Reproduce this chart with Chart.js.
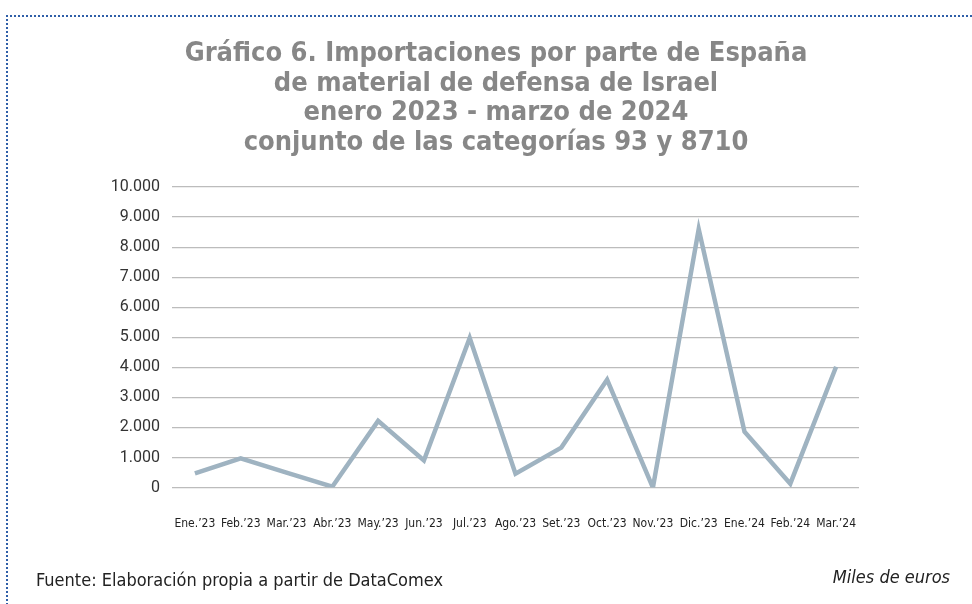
<!DOCTYPE html>
<html>
<head>
<meta charset="utf-8">
<script src="https://cdn.jsdelivr.net/npm/chart.js@4.4.1/dist/chart.umd.min.js"></script>
<style>
  body { margin: 0; background: #fff; }
  #wrap { position: relative; width: 972px; height: 604px; overflow: hidden; }
  #frame {
    position: absolute; left: 6px; top: 15px; width: 980px; height: 600px;
    border-top: 2px dotted #2f5fa8; border-left: 2px dotted #2f5fa8;
  }
  #chart-box { position: absolute; left: 0; top: 0; width: 972px; height: 604px; }
  #title {
    position: absolute; left: 296px; width: 400px; top: 37px; text-align: center;
    white-space: nowrap; display: flex; flex-direction: column; align-items: center;
    font-family: 'Liberation Sans Narrow', 'DejaVu Sans Condensed', 'Roboto', sans-serif;
    font-weight: bold; font-size: 27px; line-height: 29.5px; color: #878787;
  }
  .note { position: absolute; font-family: 'Liberation Sans Narrow', 'DejaVu Sans Condensed', 'Roboto', sans-serif; font-size: 18px; color: #222; }
  #source { left: 36px; top: 569px; }
  #units { right: 22px; top: 566px; font-style: italic; }
</style>
</head>
<body>
<div id="wrap">
  <div id="frame"></div>
  <div id="chart-box"><canvas id="imports-chart"></canvas></div>
  <div id="title"></div>
  <div class="note" id="source">Fuente: Elaboración propia a partir de DataComex</div>
  <div class="note" id="units">Miles de euros</div>
</div>
<script>
// Imports of defence material from Israel, thousands of euros
const months = ['Ene.’23', 'Feb.’23', 'Mar.’23', 'Abr.’23', 'May.’23', 'Jun.’23', 'Jul.’23',
    'Ago.’23', 'Set.’23', 'Oct.’23', 'Nov.’23', 'Dic.’23', 'Ene.’24', 'Feb.’24', 'Mar.’24'];
const imports = [470, 970, 500, 30, 2220, 900, 4980, 460, 1330, 3590, 0, 8600, 1860, 130, 4020];
const titleLines = [
    'Gráfico 6. Importaciones por parte de España',
    'de material de defensa de Israel',
    'enero 2023 - marzo de 2024',
    'conjunto de las categorías 93 y 8710'
];

const narrow = "'Liberation Sans Narrow', 'DejaVu Sans Condensed', 'Roboto', sans-serif";

// title block
const titleEl = document.getElementById('title');
titleLines.forEach(line => {
    const span = document.createElement('span');
    span.textContent = line;
    titleEl.appendChild(span);
});

const ctx = document.getElementById('imports-chart').getContext('2d');
new Chart(ctx, {
    type: 'line',
    data: {
        labels: months,
        datasets: [{
            data: imports,
            borderColor: '#9fb3c1',
            borderWidth: 4.5,
            pointRadius: 0,
            tension: 0,
            fill: false
        }]
    },
    options: {
        responsive: true,
        maintainAspectRatio: false,
        animation: false,
        layout: { padding: { left: 0, right: 113, top: 187, bottom: 44 } },
        plugins: {
            legend: { display: false },
            tooltip: { enabled: false }
        },
        scales: {
            x: {
                offset: true,
                grid: { display: false, drawTicks: false },
                border: { display: false },
                ticks: {
                    color: '#222',
                    font: { family: narrow, size: 12 },
                    maxRotation: 0,
                    autoSkip: false,
                    padding: 29
                }
            },
            y: {
                min: 0,
                max: 10000,
                afterFit: (scale) => { scale.width = 172; },
                grid: { color: '#bcbcbc', lineWidth: 1.2, drawTicks: false },
                border: { display: false },
                ticks: {
                    stepSize: 1000,
                    color: '#333',
                    font: { family: "'Roboto', sans-serif", size: 16 },
                    padding: 12,
                    callback: (v) => v === 0 ? '0' : v.toLocaleString('de-DE')
                }
            }
        }
    }
});
</script>
</body>
</html>
